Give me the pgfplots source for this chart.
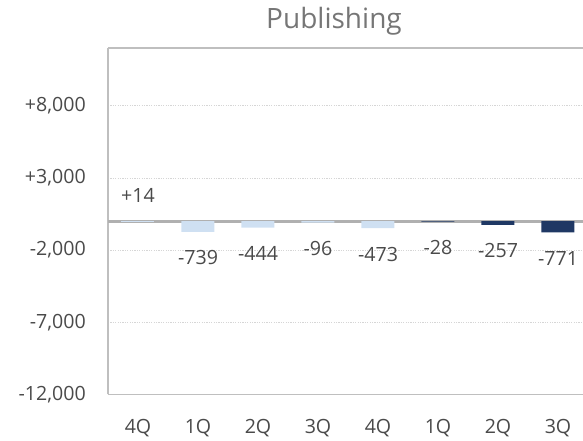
\documentclass[border=0pt]{standalone}
\usepackage{pgfplots}
\pgfplotsset{compat=1.18}
\usepackage{fontspec}
\setmainfont{Open Sans}
\definecolor{lightbar}{HTML}{CFE0F2}
\definecolor{darkbar}{HTML}{1F3864}
\definecolor{txt}{HTML}{4A4A4A}
\definecolor{titlegray}{HTML}{767676}
\definecolor{axisgray}{HTML}{BFBFBF}
\definecolor{gridgray}{HTML}{D6D6D6}
\definecolor{zerogray}{HTML}{B0B0B0}
\newcommand{\lblfont}{\fontsize{14.7}{16}\selectfont}
\begin{document}
\begin{tikzpicture}
\begin{axis}[
  width=356.25pt, height=259.875pt, scale only axis,
  xmin=-0.5, xmax=7.4167, ymin=-12000, ymax=12000,
  scaled y ticks=false,
  axis x line*=box, axis y line*=left,
  axis line style={draw=axisgray, line width=1pt},
  ytick={-12000,-7000,-2000,3000,8000},
  yticklabels={{-12,000},{-7,000},{-2,000},{+3,000},{+8,000}},
  xtick={0,1,2,3,4,5,6,7},
  xticklabels={4Q,1Q,2Q,3Q,4Q,1Q,2Q,3Q},
  major tick length=0pt,
  ymajorgrids, grid style={draw=gridgray, line width=0.6pt, dash pattern=on 0.9pt off 0.9pt},
  extra y ticks={0}, extra y tick labels={},
  extra y tick style={grid=major, major grid style={draw=zerogray, line width=2.2pt, solid}},
  tick label style={font=\lblfont, text=txt},
  yticklabel style={anchor=east, inner sep=0pt, xshift=-16.5pt},
  xticklabel style={anchor=base, inner sep=0pt, yshift=-28.9pt},
  ybar, bar width=24.75pt, bar shift=0pt,
  point meta=explicit symbolic,
  nodes near coords,
  every node near coord/.append style={font=\lblfont, text=txt, anchor=center, inner sep=0pt},
  clip=false,
]
\coordinate (sw) at (rel axis cs:0,0);
\coordinate (ne) at (rel axis cs:1,1);
\node[anchor=base, inner sep=0pt, font=\fontsize{21}{24}\selectfont, text=titlegray,
  xshift=169.5pt, yshift=14.25pt] at (rel axis cs:0,1) {Publishing};
\addplot[fill=lightbar, draw=none, every node near coord/.append style={yshift=19.5pt}]
  table[meta=l]{
x y l
0 14 +14
};
\addplot[fill=lightbar, draw=none, every node near coord/.append style={yshift=-19.5pt}]
  table[meta=l]{
x y l
1 -739 -739
2 -444 -444
3 -96 -96
4 -473 -473
};
\addplot[fill=darkbar, draw=none, every node near coord/.append style={yshift=-19.5pt}]
  table[meta=l]{
x y l
5 -28 -28
6 -257 -257
7 -771 -771
};
\end{axis}
\pgfresetboundingbox
\path ([xshift=-81pt, yshift=-34.875pt]sw) rectangle ([yshift=36pt]ne);
\end{tikzpicture}
\end{document}
